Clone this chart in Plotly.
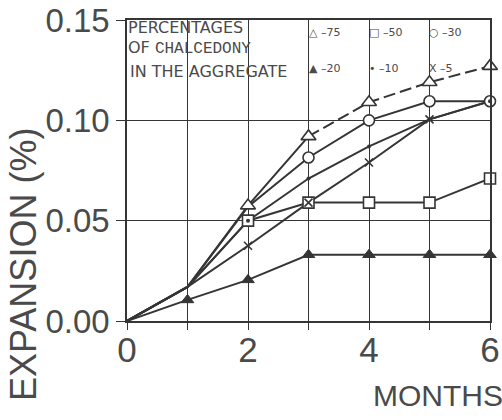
import plotly.graph_objects as go

months = [0, 1, 2, 3, 4, 5, 6]
s75 = [0.0, 0.017, 0.0575, 0.092, 0.109, 0.119, 0.127]
s50 = [0.0, 0.017, 0.050, 0.059, 0.059, 0.059, 0.071]
s30 = [0.0, 0.017, 0.057, 0.0815, 0.100, 0.1095, 0.1095]
s20 = [0.0, 0.0105, 0.0205, 0.033, 0.033, 0.033, 0.033]
s10 = [0.0, 0.017, 0.050, 0.071, 0.087, 0.1005, 0.1095]
s5 = [0.0, 0.017, 0.0375, 0.059, 0.079, 0.1005, 0.1095]

x_ticks = [0, 1, 2, 3, 4, 5, 6]
x_ticktext = ["0", "", "2", "", "4", "", "6"]
y_ticks = [0.0, 0.05, 0.10, 0.15]
y_ticktext = ["0.00", "0.05", "0.10", "0.15"]

INK = "#353535"
TXT = "#4a4a4a"
W, H = 502, 420
L, R, T, B = 127, 12, 20, 99
PW, PH = W - L - R, H - T - B


def px(x):
    return (x - L) / PW


def py(y):
    return (H - B - y) / PH


fig = go.Figure()

# ---- lines first ----
def line(xs, ys, dash="solid"):
    fig.add_trace(go.Scatter(x=xs, y=ys, mode="lines",
                             line=dict(color=INK, width=2, dash=dash),
                             hoverinfo="skip", showlegend=False, cliponaxis=False))

line(months[:4], s75[:4])
line(months[3:], s75[3:], dash="12px,5px")
line(months, s50)
line(months, s30)
line(months, s20)
line(months, s10)
line(months, s5)

# ---- markers on top ----
def marks(xs, ys, symbol, size, keep, fill="white", lw=1.6):
    mx = [x for x, k in zip(xs, keep) if k]
    my = [y for y, k in zip(ys, keep) if k]
    fig.add_trace(go.Scatter(x=mx, y=my, mode="markers",
                             marker=dict(symbol=symbol, size=size, color=fill,
                                         line=dict(color=INK, width=lw)),
                             hoverinfo="skip", showlegend=False, cliponaxis=False))

marks(months, s30, "circle", 11, [m >= 3 for m in months])
marks(months, s50, "square", 11, [m >= 2 for m in months])
marks(months, s75, "triangle-up", 13, [m >= 2 for m in months])
marks(months, s20, "triangle-up", 11, [m >= 1 for m in months], fill=INK, lw=1)
marks(months, s5, "x-thin", 8, [2 <= m <= 5 for m in months], lw=1.6)
marks(months, s10, "circle", 4, [m >= 2 for m in months], fill=INK, lw=0)

axis_common = dict(showgrid=True, gridcolor=INK, gridwidth=1.3, zeroline=False,
                   showline=True, linecolor=INK, linewidth=1.5, mirror=True,
                   ticks="outside", tickcolor=INK, tickwidth=1.3, automargin=False)

fig.update_layout(
    width=W, height=H, margin=dict(l=L, r=R, t=T, b=B),
    paper_bgcolor="white", plot_bgcolor="white",
    xaxis=dict(range=[0, 6], tickmode="array", tickvals=x_ticks, ticktext=x_ticktext,
               ticklen=7, ticklabelstandoff=-10,
               tickfont=dict(family="Liberation Sans", size=35, color=TXT),
               **axis_common),
    yaxis=dict(range=[0, 0.15], tickmode="array", tickvals=y_ticks, ticktext=y_ticktext,
               ticklen=9, tickfont=dict(family="Liberation Sans", size=33, color=TXT),
               **axis_common),
)

ann = []
ann.append(dict(text="EXPANSION (%)", x=px(23), y=py(265), xref="paper", yref="paper",
                textangle=-90, showarrow=False, xanchor="center", yanchor="middle",
                font=dict(family="Liberation Sans", size=36, color=TXT)))
ann.append(dict(text="MONTHS", x=px(371), y=py(395), xref="paper", yref="paper",
                showarrow=False, xanchor="left", yanchor="middle",
                font=dict(family="Liberation Sans", size=30, color=TXT)))
small = dict(family="DejaVu Sans", size=16, color=TXT)
ann.append(dict(text="PERCENTAGES", x=px(126), y=py(27), xref="paper", yref="paper",
                showarrow=False, xanchor="left", yanchor="middle", font=small))
ann.append(dict(text="OF <span style='font-family:Liberation Mono'>CHALCEDONY</span>",
                x=px(126), y=py(48), xref="paper", yref="paper",
                showarrow=False, xanchor="left", yanchor="middle", font=small))
ann.append(dict(text="IN THE AGGREGATE", x=px(128), y=py(71), xref="paper", yref="paper",
                showarrow=False, xanchor="left", yanchor="middle", font=small))

legend_labels = ["\u25b3 \u201375", "\u25a1 \u201350", "\u25cb \u201330",
                 "\u25b2 \u201320", "\u2022 \u201310", "X \u20135"]
legend_left = [307, 367, 427, 307, 367, 427]
legend_mid = [32, 32, 32, 69, 69, 69]
for t, lx, ly in zip(legend_labels, legend_left, legend_mid):
    ann.append(dict(text=t, x=px(lx), y=py(ly), xref="paper", yref="paper",
                    showarrow=False, xanchor="left", yanchor="middle",
                    font=dict(family="DejaVu Sans", size=11, color=TXT)))

fig.update_layout(annotations=ann)
fig.write_html("out.html")
